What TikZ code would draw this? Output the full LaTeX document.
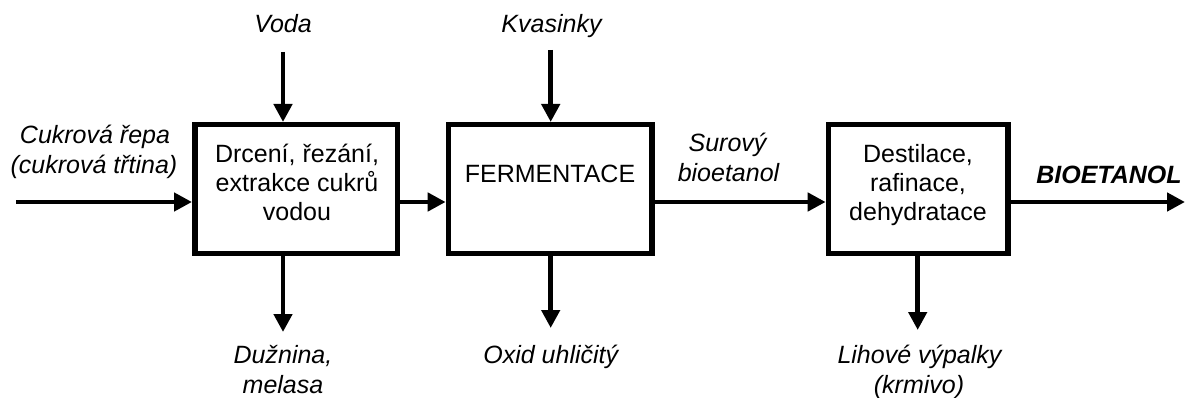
\documentclass[tikz,border=0pt]{standalone}
\usepackage{fontspec}
\setmainfont{Liberation Sans}
\usetikzlibrary{arrows.meta}
\tikzset{
  procbox/.style={draw, line width=5.5pt, inner sep=0pt, minimum height=128.5pt},
  flow/.style={line width=4.5pt, -{Triangle[length=18pt,width=18pt]}},
  lbl/.style={anchor=base, inner sep=0pt, font=\fontsize{25}{29}\selectfont\itshape},
  btxt/.style={anchor=base, inner sep=0pt, font=\fontsize{25}{29}\selectfont},
  otxt/.style={anchor=base, inner sep=0pt, font=\fontsize{25}{29}\selectfont\bfseries\itshape}
}
\begin{document}
\begin{tikzpicture}[x=1pt,y=1pt]
\useasboundingbox (0,0) rectangle (1186,-398);
% boxes
\node[procbox, minimum width=202.5pt] (box1) at (296,-189) {};
\node[procbox, minimum width=203.8pt] (box2) at (550.3,-189) {};
\node[procbox, minimum width=179.8pt] (box3) at (918.3,-189) {};
% box texts
\node[btxt] (b1a) at (297,-163) {Drcení, řezání,};
\node[btxt] (b1b) at (297,-192) {extrakce cukrů};
\node[btxt] (b1c) at (297,-221) {vodou};
\node[btxt] (b2a) at (550,-183) {FERMENTACE};
\node[btxt] (b3a) at (918,-163) {Destilace,};
\node[btxt] (b3b) at (918,-192) {rafinace,};
\node[btxt] (b3c) at (918,-221) {dehydratace};
% labels
\node[lbl] (voda) at (283,-33) {Voda};
\node[lbl] (kvas) at (551.5,-33) {Kvasinky};
\node[lbl] (cuk1) at (95,-144) {Cukrová řepa};
\node[lbl] (cuk2) at (94,-174) {(cukrová třtina)};
\node[lbl] (sur1) at (727.5,-152) {Surový};
\node[lbl] (sur2) at (728.5,-182) {bioetanol};
\node[otxt] (bio) at (1109,-184) {BIOETANOL};
\node[lbl] (duz1) at (283,-363) {Dužnina,};
\node[lbl] (duz2) at (283,-393) {melasa};
\node[lbl] (oxid) at (550.8,-363) {Oxid uhličitý};
\node[lbl] (lih1) at (919.5,-363) {Lihové výpalky};
\node[lbl] (lih2) at (919,-393) {(krmivo)};
% arrow end points
\coordinate (inA) at (16,-202);
\coordinate (outA) at (1185,-202);
\coordinate (vA) at (283,-52);
\coordinate (kA) at (550.7,-50);
\coordinate (dA) at (283,-332);
\coordinate (dB) at (550.7,-328);
\coordinate (dC) at (917.7,-330);
% arrows
\draw[flow] (inA) -- (inA -| box1.west);
\draw[flow] (box1.east |- inA) -- (box2.west |- inA);
\draw[flow] (box2.east |- inA) -- (box3.west |- inA);
\draw[flow] (box3.east |- inA) -- (outA);
\draw[flow] (vA) -- (vA |- box1.north);
\draw[flow] (kA) -- (kA |- box2.north);
\draw[flow] (dA |- box1.south) -- (dA);
\draw[flow] (dB |- box2.south) -- (dB);
\draw[flow] (dC |- box3.south) -- (dC);
\end{tikzpicture}
\end{document}
